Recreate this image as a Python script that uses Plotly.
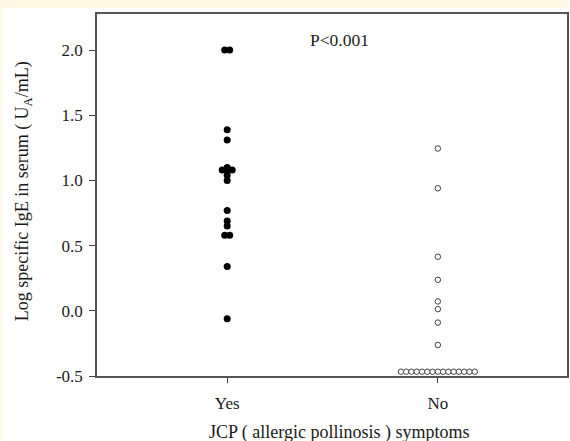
import plotly.graph_objects as go
from collections import Counter

# ---- data ----
categories = ["Yes", "No"]
yes_values = [2.0, 2.0, 1.39, 1.31, 1.10, 1.08, 1.08, 1.08, 1.04, 1.00,
              0.77, 0.69, 0.65, 0.58, 0.58, 0.34, -0.06]
no_values = [1.245, 0.94, 0.415, 0.238, 0.072, 0.013, -0.09, -0.262] + [-0.467] * 15
y_ticks = [-0.5, 0.0, 0.5, 1.0, 1.5, 2.0]
y_tick_text = ["-0.5", "0.0", "0.5", "1.0", "1.5", "2.0"]

# ---- layout geometry ----
W, H = 570, 441
ML, MR, MT, MB = 97, 1, 14, 65
PW = W - ML - MR
PH = H - MT - MB
X_RANGE = [-0.618, 1.613]
Y_RANGE = [-0.5, 2.277]
px_per_x = PW / (X_RANGE[1] - X_RANGE[0])


def tie_offsets(values, spacing_px):
    """Spread tied values side by side, centred on the category."""
    counts = Counter(values)
    seen = Counter()
    out = []
    for v in values:
        n = counts[v]
        i = seen[v]
        seen[v] += 1
        out.append((i - (n - 1) / 2) * spacing_px / px_per_x)
    return out


yes_x = [0 + o for o in tie_offsets(yes_values, 5.0)]
no_x = [1 + o for o in tie_offsets(no_values, 5.3)]

fig = go.Figure()
fig.add_trace(go.Scatter(
    x=yes_x, y=yes_values, mode="markers",
    marker=dict(size=7, color="black", line=dict(width=0)),
    cliponaxis=False, showlegend=False, hoverinfo="skip",
))
fig.add_trace(go.Scatter(
    x=no_x, y=no_values, mode="markers",
    marker=dict(size=5.5, color="white", line=dict(width=1, color="#444")),
    cliponaxis=False, showlegend=False, hoverinfo="skip",
))

font = "Liberation Serif, Times New Roman, serif"
txt = "#1a1a1a"
axis_common = dict(showline=True, linecolor="#555", linewidth=1.5, mirror=True,
                   showgrid=False, zeroline=False, ticks="outside",
                   tickcolor="#444", tickwidth=1,
                   tickfont=dict(family=font, size=17, color=txt))

fig.update_xaxes(range=X_RANGE, tickvals=[0, 1], ticktext=categories,
                 ticklen=5, ticklabelstandoff=6, **axis_common)
fig.update_yaxes(range=Y_RANGE, tickvals=y_ticks, ticktext=y_tick_text,
                 ticklen=6, ticklabelstandoff=3, **axis_common)

# cream page edge strips
cream = "#FEF8E4"
fig.add_shape(type="rect", xref="paper", yref="paper",
              x0=-ML / PW, x1=(W - ML) / PW,
              y0=1 + (MT - 8) / PH, y1=1 + MT / PH,
              fillcolor=cream, line=dict(width=0), layer="below")
fig.add_shape(type="rect", xref="paper", yref="paper",
              x0=-ML / PW, x1=(-ML + 2) / PW,
              y0=-MB / PH, y1=1 + MT / PH,
              fillcolor=cream, line=dict(width=0), layer="below")

fig.add_annotation(text="P<0.001", xref="paper", yref="paper",
                   x=(341 - ML) / PW, y=(MT + PH - 40) / PH,
                   showarrow=False, xanchor="center", yanchor="middle",
                   font=dict(family=font, size=17.5, color=txt))
fig.add_annotation(text="Log specific IgE in serum ( U<sub>A</sub>/mL)",
                   xref="paper", yref="paper",
                   x=(23 - ML) / PW, y=(MT + PH - 191) / PH, textangle=-90,
                   showarrow=False, xanchor="center", yanchor="middle",
                   font=dict(family=font, size=18, color=txt))
fig.add_annotation(text="JCP ( allergic pollinosis ) symptoms",
                   xref="paper", yref="paper",
                   x=(341 - ML) / PW, y=(MT + PH - 432) / PH,
                   showarrow=False, xanchor="center", yanchor="middle",
                   font=dict(family=font, size=18, color=txt))

fig.update_layout(width=W, height=H, autosize=False,
                  margin=dict(l=ML, r=MR, t=MT, b=MB, pad=0),
                  paper_bgcolor="white", plot_bgcolor="white")

fig.write_html("out.html",
               config={"displayModeBar": False, "responsive": False},
               post_script="document.body.style.margin='0';"
                           "document.body.style.overflow='hidden';")
